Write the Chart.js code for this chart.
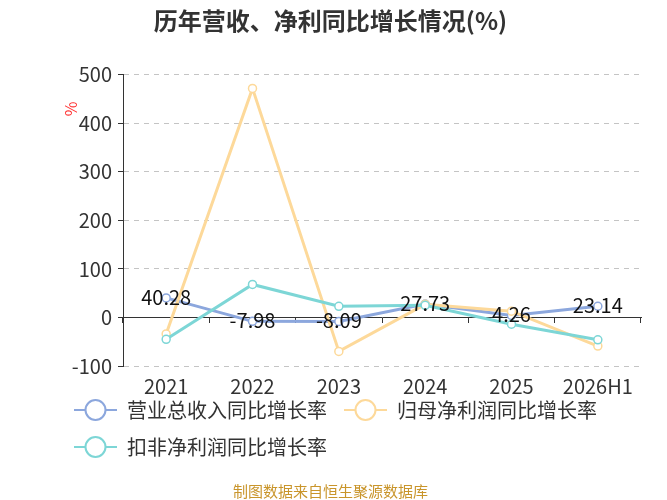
<!DOCTYPE html>
<html><head><meta charset="utf-8">
<script src="https://cdn.jsdelivr.net/npm/chart.js@4/dist/chart.umd.min.js"></script>
<style>html,body{margin:0;padding:0;background:#fff;}#wrap{width:667px;height:500px;position:relative;}</style>
</head><body><div id="wrap"><canvas id="c"></canvas></div>
<script>
const categories = ['2021', '2022', '2023', '2024', '2025', '2026H1'];
const revenueGrowth = [40.28, -7.98, -8.09, 27.73, 4.26, 23.14];
const netProfitGrowth = [-34, 472, -70, 27, 13, -59];
const deductedProfitGrowth = [-45, 68, 23, 25, -14, -46];
const seriesNames = ['营业总收入同比增长率', '归母净利润同比增长率', '扣非净利润同比增长率'];
const yTicks = [-100, 0, 100, 200, 300, 400, 500];
const titleText = '历年营收、净利同比增长情况(%)';
const unitText = '%';
const sourceText = '制图数据来自恒生聚源数据库';

const FAMILY = "'Noto Sans CJK SC', 'Noto Sans', sans-serif";
const colors = ['#8ca7dd', '#fdd99a', '#7dd6d6'];

function makeMarker(color) {
  const c = document.createElement('canvas');
  c.width = 43; c.height = 24;
  const g = c.getContext('2d');
  g.strokeStyle = color; g.lineWidth = 2;
  g.beginPath(); g.moveTo(0, 12); g.lineTo(43, 12); g.stroke();
  g.beginPath(); g.arc(21.5, 12, 10, 0, Math.PI * 2);
  g.fillStyle = '#fff'; g.fill(); g.stroke();
  return c;
}
const markers = colors.map(makeMarker);

function ds(i, data, order) {
  return {
    label: seriesNames[i], data: data,
    borderColor: colors[i], backgroundColor: colors[i],
    borderWidth: 3, tension: 0,
    pointRadius: 4, pointBorderWidth: 1.5,
    pointBackgroundColor: '#fff', pointBorderColor: colors[i],
    order: order, xAxisID: 'x', yAxisID: 'y'
  };
}

const valueLabels = {
  id: 'valueLabels',
  afterDatasetsDraw(chart) {
    const meta = chart.getDatasetMeta(0);
    const ctx = chart.ctx;
    ctx.save();
    ctx.font = '20px ' + FAMILY;
    ctx.fillStyle = '#111';
    ctx.textAlign = 'center';
    ctx.textBaseline = 'middle';
    meta.data.forEach((pt, i) => ctx.fillText(String(revenueGrowth[i]), pt.x, pt.y - 1));
    ctx.restore();
  }
};
const unitLabel = {
  id: 'unitLabel',
  afterDraw(chart) {
    const ctx = chart.ctx, a = chart.chartArea;
    ctx.save();
    ctx.translate(a.left - 52, a.top + 34);
    ctx.rotate(-Math.PI / 2);
    ctx.font = '16px ' + FAMILY;
    ctx.fillStyle = '#ff3333';
    ctx.textAlign = 'center';
    ctx.textBaseline = 'middle';
    ctx.fillText(unitText, 0, 0);
    ctx.restore();
  }
};
const legendShift = {
  id: 'legendShift',
  afterLayout(chart) {
    const l = chart.legend;
    if (l) { l.left += 37; l.right += 37; l.top -= 15; l.bottom -= 15; }
  }
};

new Chart(document.getElementById('c'), {
  type: 'line',
  data: {
    labels: categories,
    datasets: [ds(0, revenueGrowth, 3), ds(1, netProfitGrowth, 2), ds(2, deductedProfitGrowth, 1)]
  },
  plugins: [valueLabels, unitLabel, legendShift],
  options: {
    responsive: true, maintainAspectRatio: false, animation: false,
    layout: { padding: { left: 20, right: 26, top: 0, bottom: 0 } },
    font: { family: FAMILY },
    scales: {
      x: {
        type: 'category', position: { y: 0 }, offset: true,
        ticks: { display: false },
        grid: { display: true, drawOnChartArea: false, drawTicks: true, tickLength: 5, tickColor: '#333', offset: true },
        border: { display: true, color: '#333', width: 1 }
      },
      x2: {
        type: 'category', position: 'bottom', offset: true, bounds: 'ticks',
        ticks: { font: { size: 20, family: FAMILY }, color: '#333', padding: 8, maxRotation: 0, autoSkip: false },
        grid: { display: false, drawTicks: false },
        border: { display: false },
        afterFit: s => { s.height = 32; }
      },
      y: {
        min: -100, max: 500,
        afterBuildTicks: s => { s.ticks = yTicks.map(v => ({ value: v })); },
        ticks: { font: { size: 20, family: FAMILY }, color: '#333', padding: 6 },
        grid: {
          color: c => (c.tick && c.tick.value === 0) ? 'rgba(0,0,0,0)' : '#c4c4c4',
          tickColor: '#333', tickLength: 5, drawTicks: true, lineWidth: 1
        },
        border: { display: true, color: '#333', width: 1, dash: [5, 5] },
        afterFit: s => { s.width = 103; }
      }
    },
    plugins: {
      tooltip: { enabled: false },
      title: {
        display: true, text: titleText, color: '#333',
        font: { size: 24, weight: 'bold', family: FAMILY },
        padding: { top: 6, bottom: 40 }
      },
      subtitle: {
        display: true, position: 'bottom', text: sourceText, color: '#c9952b',
        font: { size: 15, family: FAMILY },
        padding: { top: 0, bottom: 0 }
      },
      legend: {
        position: 'bottom', align: 'start',
        labels: {
          usePointStyle: true, pointStyleWidth: 43, padding: 17, color: '#333',
          font: { size: 20, family: FAMILY },
          sort: (a, b) => a.datasetIndex - b.datasetIndex,
          generateLabels: chart => {
            const items = Chart.defaults.plugins.legend.labels.generateLabels(chart);
            items.forEach(it => { it.pointStyle = markers[it.datasetIndex]; it.text = seriesNames[it.datasetIndex]; });
            return items;
          }
        }
      }
    }
  }
});
</script>
</body></html>
